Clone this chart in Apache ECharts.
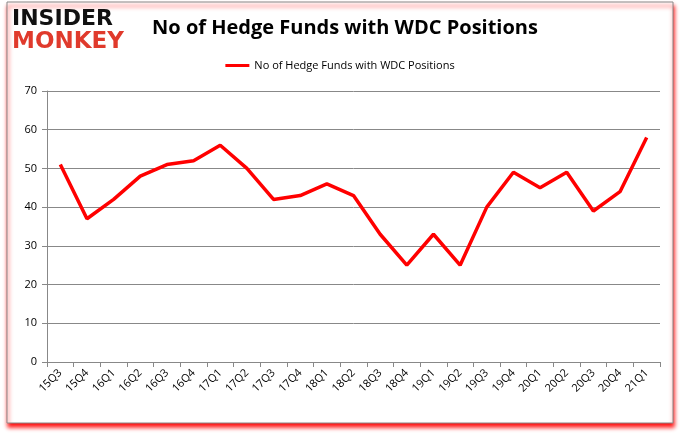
<!DOCTYPE html>
<html>
<head>
<meta charset="utf-8">
<style>html,body{margin:0;padding:0;background:#fff;}#c{width:680px;height:433px;}</style>
<script src="https://cdn.jsdelivr.net/npm/echarts@6/dist/echarts.min.js"></script>
</head>
<body>
<div id="c"></div>
<script>
const categories = ["15Q3","15Q4","16Q1","16Q2","16Q3","16Q4","17Q1","17Q2","17Q3","17Q4","18Q1","18Q2","18Q3","18Q4","19Q1","19Q2","19Q3","19Q4","20Q1","20Q2","20Q3","20Q4","21Q1"];
const hedgeFunds = [51,37,42,48,51,52,56,50,42,43,46,43,33,25,33,25,40,49,45,49,39,44,58];
const seriesName = "No of Hedge Funds with WDC Positions";
const titleText = "No of Hedge Funds with WDC Positions";

const chart = echarts.init(document.getElementById('c'), null, {renderer:'canvas'});
chart.setOption({
  animation:false,
  backgroundColor:'#fff',
  graphic:[
    {type:'rect', z:-9, shape:{x:7,y:2,width:666,height:421}, style:{fill:'#fff', stroke:'#888', lineWidth:1, shadowColor:'rgba(255,0,0,0.95)', shadowBlur:4, shadowOffsetX:1, shadowOffsetY:4}, silent:true},
    {type:'text', left:12, top:8, style:{text:'INSIDER', fill:'#111', font:'bold 22px "DejaVu Sans"'}},
    {type:'text', left:12, top:31, style:{text:'MONKEY', fill:'#e03a2c', font:'bold 23px "DejaVu Sans"'}}
  ],
  title:{text:titleText, left:340, textAlign:'center', top:13, textStyle:{fontFamily:'"Open Sans"', fontWeight:'bold', fontSize:20, color:'#000'}},
  legend:{top:55, left:'center', itemWidth:24, itemHeight:3, icon:'rect', textStyle:{fontFamily:'"Open Sans"', fontSize:11, color:'#000'}, data:[seriesName]},
  grid:{left:47, right:20, top:91, bottom:71, containLabel:false},
  xAxis:{type:'category', data:categories, boundaryGap:true,
    axisLine:{lineStyle:{color:'#888'}}, axisTick:{show:true, alignWithLabel:false, lineStyle:{color:'#888'}, length:5},
    axisLabel:{rotate:45, fontFamily:'"Open Sans"', fontSize:11, color:'#000', margin:9, interval:0}},
  yAxis:{type:'value', min:0, max:70, interval:10,
    axisLine:{show:true, lineStyle:{color:'#888'}}, axisTick:{show:true, length:5, lineStyle:{color:'#888'}},
    splitLine:{lineStyle:{color:'#888'}},
    axisLabel:{fontFamily:'"Open Sans"', fontSize:11, color:'#000', margin:10}},
  series:[{name:seriesName, type:'line', data:hedgeFunds, symbol:'none', lineStyle:{color:'#ff0000', width:3.5}, itemStyle:{color:'#ff0000'}}]
});
</script>
</body>
</html>
